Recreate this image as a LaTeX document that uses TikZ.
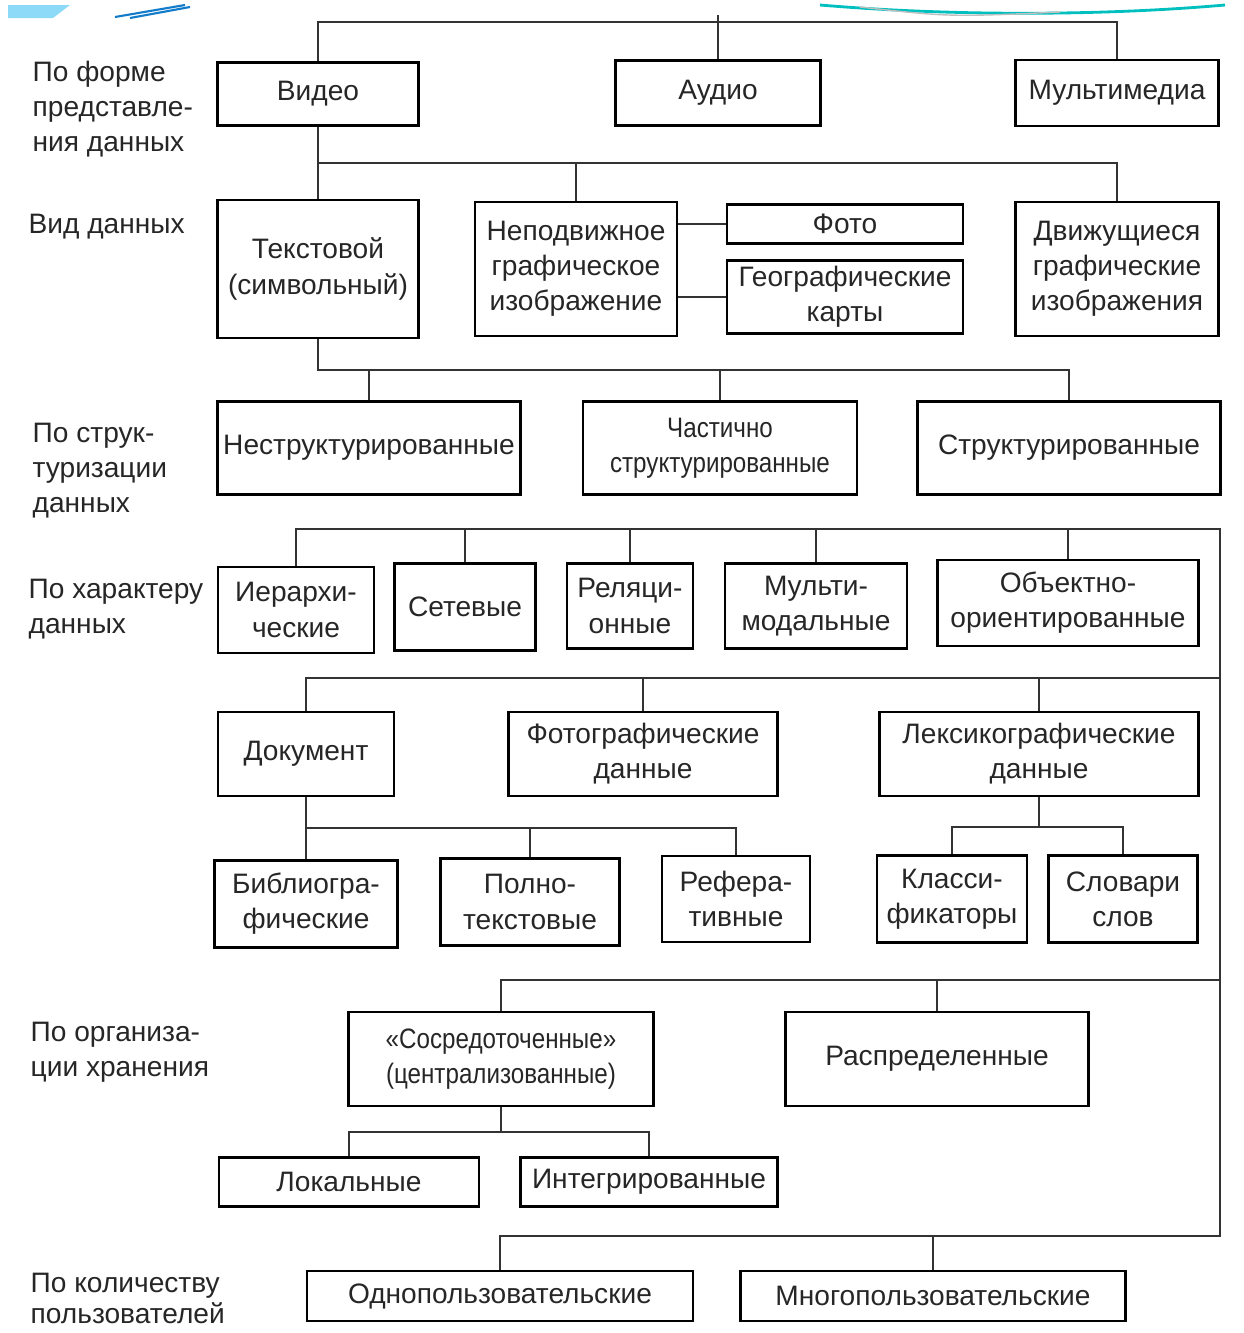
\documentclass[tikz,border=0pt]{standalone}
\usepackage{fontspec}
\setmainfont{Liberation Sans}
\newfontfamily\narrowfont[FakeStretch=0.86]{Liberation Sans}
\usepackage{tikz}

\begin{document}
\begin{tikzpicture}
% Box style
\tikzset{
    box/.style={draw=black, line width=0.8pt, align=center, inner sep=0pt,
        text=black!85, font=\fontsize{8}{10}\selectfont},
    wh/.style 2 args={minimum width=#1cm, minimum height=#2cm},
    group/.style={anchor=north west, align=left, inner sep=0pt,
        text=black!85, font=\fontsize{8}{10}\selectfont},
    wire/.style={line width=0.5pt, black!80}
}
\useasboundingbox (0,0) rectangle (12.43,-13.33);
\clip (0,0) rectangle (12.43,-13.33);
% Slide edge
\fill[cyan!45] (0.08,-0.05) -- (0.70,-0.05) -- (0.53,-0.18) -- (0.08,-0.18) -- cycle;
\draw[cyan!60!blue, line width=0.6pt] (1.15,-0.17) -- (1.85,-0.05) (1.30,-0.18) -- (1.90,-0.07);
\draw[teal!50!cyan, line width=0.8pt] (8.20,-0.05) .. controls (9.50,-0.16) and (11.00,-0.16) .. (12.25,-0.05);
\draw[black!25, line width=0.4pt] (8.60,-0.07) .. controls (9.50,-0.17) .. (10.60,-0.12);
% Boxes
\node[box, wh={2.01}{0.63}] (Video) at (3.18,-0.94) {Видео};
\node[box, wh={2.05}{0.65}] (Audio) at (7.18,-0.93) {Аудио};
\node[box, wh={2.03}{0.66}] (Multi) at (11.17,-0.93) {Мультимедиа};
\node[box, wh={2.01}{1.38}] (Text) at (3.18,-2.69) {Текстовой\\(символьный)};
\node[box, wh={2.02}{1.34}] (Still) at (5.76,-2.69) {Неподвижное\\графическое\\изображение};
\node[box, wh={2.36}{0.39}] (Photo) at (8.45,-2.24) {Фото};
\node[box, wh={2.36}{0.73}] (Maps) at (8.45,-2.97) {Географические\\карты};
\node[box, wh={2.03}{1.34}] (Moving) at (11.17,-2.69) {Движущиеся\\графические\\изображения};
\node[box, wh={3.03}{0.93}] (Unstr) at (3.69,-4.48) {Неструктурированные};
\node[box, wh={2.74}{0.93}, font=\narrowfont\fontsize{8}{10}\selectfont] (Partstr) at (7.20,-4.48) {Частично\\структурированные};
\node[box, wh={3.03}{0.93}] (Str) at (10.69,-4.48) {Структурированные};
\node[box, wh={1.56}{0.86}] (Hier) at (2.96,-6.10) {Иерархи-\\ческие};
\node[box, wh={1.41}{0.87}] (Net) at (4.65,-6.07) {Сетевые};
\node[box, wh={1.26}{0.85}] (Rel) at (6.30,-6.06) {Реляци-\\онные};
\node[box, wh={1.82}{0.85}] (Multimod) at (8.16,-6.06) {Мульти-\\модальные};
\node[box, wh={2.61}{0.86}] (OO) at (10.68,-6.03) {Объектно-\\ориентированные};
\node[box, wh={1.76}{0.84}] (Doc) at (3.06,-7.54) {Документ};
\node[box, wh={2.69}{0.84}] (Photodata) at (6.43,-7.54) {Фотографические\\данные};
\node[box, wh={3.19}{0.84}] (Lex) at (10.39,-7.54) {Лексикографические\\данные};
\node[box, wh={1.83}{0.87}] (Biblio) at (3.06,-9.04) {Библиогра-\\фические};
\node[box, wh={1.79}{0.87}] (Fulltext) at (5.30,-9.02) {Полно-\\текстовые};
\node[box, wh={1.48}{0.86}] (Abstr) at (7.36,-8.99) {Рефера-\\тивные};
\node[box, wh={1.50}{0.87}] (Classif) at (9.52,-8.99) {Класси-\\фикаторы};
\node[box, wh={1.49}{0.87}] (Dict) at (11.23,-8.99) {Словари\\слов};
\node[box, wh={3.05}{0.94}, font=\narrowfont\fontsize{8}{10}\selectfont] (Central) at (5.01,-10.59) {«Сосредоточенные»\\(централизованные)};
\node[box, wh={3.03}{0.94}] (Distrib) at (9.37,-10.59) {Распределенные};
\node[box, wh={2.60}{0.49}] (Local) at (3.49,-11.82) {Локальные};
\node[box, wh={2.57}{0.49}] (Integr) at (6.49,-11.82) {Интегрированные};
\node[box, wh={3.86}{0.50}] (Single) at (5.00,-12.96) {Однопользовательские};
\node[box, wh={3.85}{0.50}] (Multiuser) at (9.33,-12.96) {Многопользовательские};
% Row labels
\node[group] (LblForm) at (0.32,-0.60) {По форме\\представле-\\ния данных};
\node[group] (LblKind) at (0.28,-2.13) {Вид данных};
\node[group] (LblStruct) at (0.32,-4.22) {По струк-\\туризации\\данных};
\node[group] (LblChar) at (0.28,-5.78) {По характеру\\данных};
\node[group] (LblStore) at (0.30,-10.21) {По организа-\\ции хранения};
\node[group] (LblUsers) at (0.30,-12.72) {По количеству\\[-1pt]пользователей};
% Bus points
\coordinate (b1) at (7.18,-0.22);
\coordinate (b2) at (5.76,-1.63);
\coordinate (b3) at (7.20,-3.70);
\coordinate (b4) at (12.20,-5.29);
\coordinate (b5) at (12.20,-6.78);
\coordinate (b6) at (5.30,-8.28);
\coordinate (bl) at (10.39,-8.27);
\coordinate (b7) at (12.20,-9.80);
\coordinate (b8) at (5.01,-11.32);
\coordinate (b9) at (12.20,-12.36);
% Connections
\draw[wire] (Video.north) |- (b1) -| (Multi.north);
\draw[wire] (Audio.north) -- (b1) -- ++(0,0.07);
\draw[wire] (Video.south) |- (b2) -| (Moving.north);
\draw[wire] (Still.north) -- (b2);
\draw[wire] (Text.north) -- (Text.north |- b2);
\draw[wire] (Still.east |- Photo) -- (Photo.west);
\draw[wire] (Still.east |- Maps) -- (Maps.west);
\draw[wire] (Text.south) |- (b3) -| (Str.north);
\draw[wire] (Unstr.north) -- (Unstr.north |- b3);
\draw[wire] (Partstr.north) -- (Partstr.north |- b3);
\draw[wire] (Hier.north) |- (b4) -- (b9) -| (Single.north);
\foreach \n in {Net,Rel,Multimod,OO}
    \draw[wire] (\n.north) -- (\n.north |- b4);
\draw[wire] (Doc.north) |- (b5);
\foreach \n in {Photodata,Lex}
    \draw[wire] (\n.north) -- (\n.north |- b5);
\draw[wire] (Doc.south) |- (b6) -| (Abstr.north);
\draw[wire] (Biblio.north) -- (Biblio.north |- b6);
\draw[wire] (Fulltext.north) -- (b6);
\draw[wire] (Lex.south) -- (bl);
\draw[wire] (Classif.north) |- (bl) -| (Dict.north);
\draw[wire] (Central.north) |- (b7);
\draw[wire] (Distrib.north) -- (Distrib.north |- b7);
\draw[wire] (Central.south) -- (b8);
\draw[wire] (Local.north) |- (b8) -| (Integr.north);
\draw[wire] (Multiuser.north) -- (Multiuser.north |- b9);

\end{tikzpicture}
\end{document}
